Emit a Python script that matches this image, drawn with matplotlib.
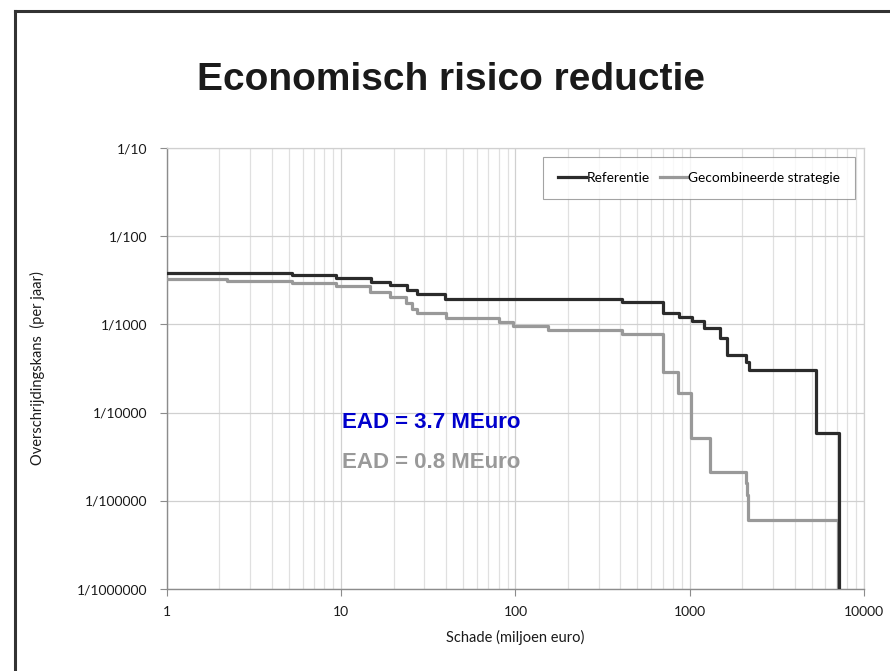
import numpy as np
import matplotlib
matplotlib.use('Agg')
import matplotlib.pyplot as plt
from matplotlib.ticker import FixedLocator, NullFormatter
from matplotlib.lines import Line2D

# schade (miljoen euro) waar de stap begint, en overschrijdingskans daarna
ref_x = [1, 5.2, 9.3, 14.8, 19.0, 23.8, 27.2, 39.4, 407, 705, 867, 1026, 1208,
         1491, 1630, 2104, 2197, 5280, 7190]
ref_p = [3.80e-3, 3.66e-3, 3.36e-3, 3.03e-3, 2.77e-3, 2.45e-3, 2.21e-3, 1.93e-3,
         1.79e-3, 1.34e-3, 1.22e-3, 1.10e-3, 9.04e-4, 6.95e-4, 4.50e-4, 3.72e-4,
         3.04e-4, 5.92e-5, 1e-6]

comb_x = [1, 2.2, 5.2, 9.3, 14.7, 19.0, 23.6, 25.5, 27.2, 40, 80.8, 97, 154, 407,
          700, 860, 1012, 1306, 2094, 2130, 2168, 7063]
comb_p = [3.24e-3, 3.13e-3, 2.97e-3, 2.72e-3, 2.33e-3, 2.03e-3, 1.73e-3, 1.51e-3,
          1.36e-3, 1.17e-3, 1.07e-3, 9.59e-4, 8.65e-4, 7.73e-4, 2.91e-4, 1.68e-4,
          5.12e-5, 2.14e-5, 1.58e-5, 1.16e-5, 6.05e-6, 1e-6]

y_ticks = [1e-1, 1e-2, 1e-3, 1e-4, 1e-5, 1e-6]
y_labels = ['1/10', '1/100', '1/1000', '1/10000', '1/100000', '1/1000000']
x_ticks = [1, 10, 100, 1000, 10000]
x_labels = ['1', '10', '100', '1000', '10000']

tick_font = 'Lato'

fig = plt.figure(figsize=(8.9, 6.71), dpi=100)
ax = fig.add_axes([0.1876, 0.1222, 0.9708 - 0.1876, 0.7794 - 0.1222])

ax.step(ref_x, ref_p, where='post', color='#2b2b2b', lw=2.3, label='Referentie', zorder=4)
ax.step(comb_x, comb_p, where='post', color='#999999', lw=2.3,
        label='Gecombineerde strategie', zorder=3)

ax.set_xscale('log')
ax.set_yscale('log')
ax.set_xlim(1, 10000)
ax.set_ylim(1e-6, 1e-1)

ax.yaxis.set_major_locator(FixedLocator(y_ticks))
ax.set_yticklabels(y_labels)
ax.yaxis.set_minor_locator(FixedLocator([]))
ax.xaxis.set_major_locator(FixedLocator(x_ticks))
ax.set_xticklabels(x_labels)
ax.xaxis.set_minor_formatter(NullFormatter())

ax.grid(True, which='major', axis='both', color='#d0d0d0', lw=0.9)
ax.grid(True, which='minor', axis='x', color='#e0e0e0', lw=0.9)
ax.set_axisbelow(True)

for s in ['top', 'right']:
    ax.spines[s].set_color('#d0d0d0')
    ax.spines[s].set_linewidth(0.9)
for s in ['left', 'bottom']:
    ax.spines[s].set_color('#8c8c8c')
    ax.spines[s].set_linewidth(1.0)

ax.tick_params(axis='both', which='major', direction='out', length=5, color='#8c8c8c',
               labelsize=10, labelcolor='#1a1a1a')
ax.tick_params(axis='y', which='major', pad=9)
ax.tick_params(axis='x', which='major', pad=7)
ax.tick_params(axis='x', which='minor', length=0)
for lbl in ax.get_xticklabels() + ax.get_yticklabels():
    lbl.set_fontfamily(tick_font)

ax.set_xlabel('Schade (miljoen euro)', fontfamily=tick_font, fontsize=10.5,
              color='#1a1a1a', labelpad=9)
ax.set_ylabel('Overschrijdingskans  (per jaar)', fontfamily=tick_font, fontsize=10.5,
              color='#1a1a1a', labelpad=23)

leg = ax.legend(loc='upper right', ncol=2, frameon=True, fancybox=False,
                edgecolor='#8c8c8c', prop={'family': tick_font, 'size': 9.8},
                handlelength=2.0, handletextpad=0.1, columnspacing=0.7,
                borderpad=1.1, borderaxespad=0, bbox_to_anchor=(0.987, 0.979))
leg.get_frame().set_linewidth(0.8)

fig.text(0.507, 0.881, 'Economisch risico reductie', ha='center', va='center',
         fontfamily='Liberation Sans', fontweight='bold', fontsize=28, color='#1a1a1a')

ax.text(0.251, 0.377, 'EAD = 3.7 MEuro', transform=ax.transAxes, ha='left', va='center',
        fontfamily='Liberation Sans', fontweight='bold', fontsize=16, color='#0000cc')
ax.text(0.251, 0.287, 'EAD = 0.8 MEuro', transform=ax.transAxes, ha='left', va='center',
        fontfamily='Liberation Sans', fontweight='bold', fontsize=16, color='#999999')

# kader van de dia
fig.add_artist(Line2D([15 / 890, 15 / 890], [0, 1 - 11 / 671], transform=fig.transFigure,
                      color='#333333', lw=2.2))
fig.add_artist(Line2D([15 / 890, 1], [1 - 11 / 671, 1 - 11 / 671], transform=fig.transFigure,
                      color='#333333', lw=2.2))

fig.savefig('out.png', dpi=100)
